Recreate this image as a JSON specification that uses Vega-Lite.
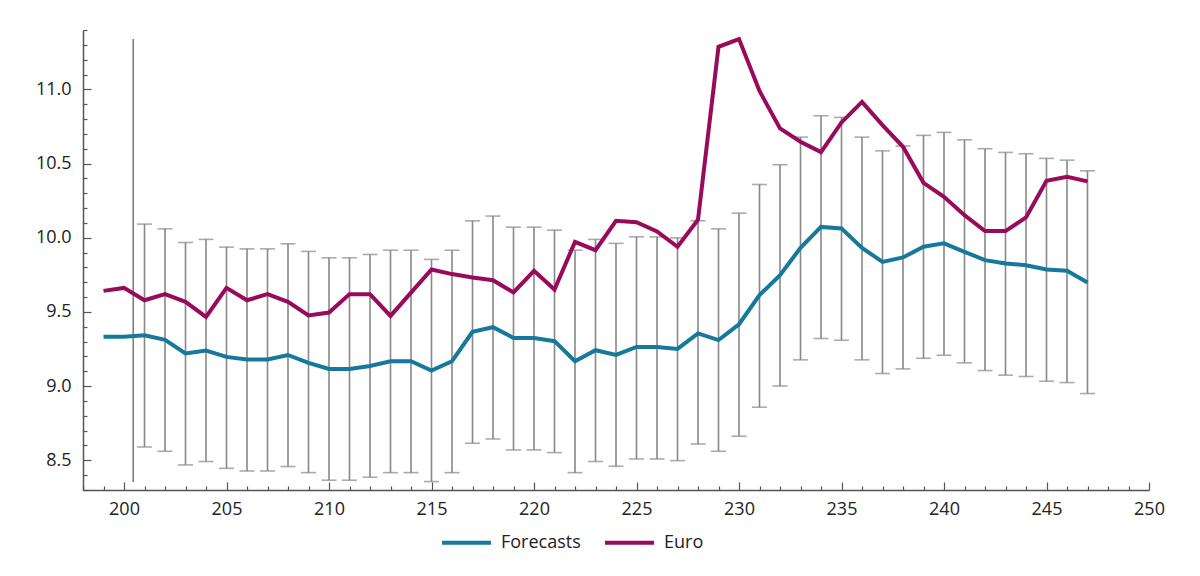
{
  "$schema": "https://vega.github.io/schema/vega-lite/v6.json",
  "autosize": "none",
  "width": 1066,
  "height": 460,
  "padding": {"left": 83, "top": 30, "right": 51, "bottom": 86},
  "background": "white",
  "config": {
    "view": {"stroke": null},
    "font": "Open Sans",
    "axis": {
      "grid": false,
      "domainColor": "#555555",
      "domainWidth": 1.5,
      "tickColor": "#555555",
      "tickWidth": 1.2,
      "labelColor": "#222222",
      "labelFont": "Open Sans",
      "labelFontSize": 18,
      "title": null
    }
  },
  "datasets": {
    "series": [
      {"x": 199, "Forecasts": 9.332, "Euro": 9.642},
      {"x": 200, "Forecasts": 9.332, "Euro": 9.662},
      {"x": 201, "Forecasts": 9.343, "Euro": 9.579},
      {"x": 202, "Forecasts": 9.312, "Euro": 9.62},
      {"x": 203, "Forecasts": 9.22, "Euro": 9.568},
      {"x": 204, "Forecasts": 9.24, "Euro": 9.467},
      {"x": 205, "Forecasts": 9.197, "Euro": 9.662},
      {"x": 206, "Forecasts": 9.179, "Euro": 9.579},
      {"x": 207, "Forecasts": 9.179, "Euro": 9.62},
      {"x": 208, "Forecasts": 9.21, "Euro": 9.568},
      {"x": 209, "Forecasts": 9.157, "Euro": 9.476},
      {"x": 210, "Forecasts": 9.116, "Euro": 9.496},
      {"x": 211, "Forecasts": 9.116, "Euro": 9.62},
      {"x": 212, "Forecasts": 9.136, "Euro": 9.62},
      {"x": 213, "Forecasts": 9.168, "Euro": 9.473},
      {"x": 214, "Forecasts": 9.168, "Euro": 9.63},
      {"x": 215, "Forecasts": 9.105, "Euro": 9.786},
      {"x": 216, "Forecasts": 9.168, "Euro": 9.755},
      {"x": 217, "Forecasts": 9.366, "Euro": 9.732},
      {"x": 218, "Forecasts": 9.397, "Euro": 9.714},
      {"x": 219, "Forecasts": 9.325, "Euro": 9.631},
      {"x": 220, "Forecasts": 9.325, "Euro": 9.777},
      {"x": 221, "Forecasts": 9.303, "Euro": 9.651},
      {"x": 222, "Forecasts": 9.168, "Euro": 9.972},
      {"x": 223, "Forecasts": 9.242, "Euro": 9.916},
      {"x": 224, "Forecasts": 9.21, "Euro": 10.114},
      {"x": 225, "Forecasts": 9.264, "Euro": 10.105},
      {"x": 226, "Forecasts": 9.264, "Euro": 10.042},
      {"x": 227, "Forecasts": 9.251, "Euro": 9.939},
      {"x": 228, "Forecasts": 9.355, "Euro": 10.121},
      {"x": 229, "Forecasts": 9.31, "Euro": 11.287},
      {"x": 230, "Forecasts": 9.417, "Euro": 11.339},
      {"x": 231, "Forecasts": 9.613, "Euro": 10.989},
      {"x": 232, "Forecasts": 9.748, "Euro": 10.737},
      {"x": 233, "Forecasts": 9.932, "Euro": 10.647},
      {"x": 234, "Forecasts": 10.073, "Euro": 10.577},
      {"x": 235, "Forecasts": 10.063, "Euro": 10.777},
      {"x": 236, "Forecasts": 9.932, "Euro": 10.916},
      {"x": 237, "Forecasts": 9.837, "Euro": 10.759},
      {"x": 238, "Forecasts": 9.867, "Euro": 10.613},
      {"x": 239, "Forecasts": 9.939, "Euro": 10.37},
      {"x": 240, "Forecasts": 9.962, "Euro": 10.276},
      {"x": 241, "Forecasts": 9.905, "Euro": 10.152},
      {"x": 242, "Forecasts": 9.849, "Euro": 10.045},
      {"x": 243, "Forecasts": 9.827, "Euro": 10.045},
      {"x": 244, "Forecasts": 9.815, "Euro": 10.137},
      {"x": 245, "Forecasts": 9.786, "Euro": 10.384},
      {"x": 246, "Forecasts": 9.777, "Euro": 10.411},
      {"x": 247, "Forecasts": 9.699, "Euro": 10.38}
    ],
    "bands": [
      {"x": 201, "lo": 8.59, "hi": 10.092},
      {"x": 202, "lo": 8.561, "hi": 10.06},
      {"x": 203, "lo": 8.469, "hi": 9.968},
      {"x": 204, "lo": 8.492, "hi": 9.989},
      {"x": 205, "lo": 8.446, "hi": 9.937},
      {"x": 206, "lo": 8.428, "hi": 9.925},
      {"x": 207, "lo": 8.428, "hi": 9.925},
      {"x": 208, "lo": 8.458, "hi": 9.959},
      {"x": 209, "lo": 8.417, "hi": 9.908},
      {"x": 210, "lo": 8.366, "hi": 9.865},
      {"x": 211, "lo": 8.366, "hi": 9.865},
      {"x": 212, "lo": 8.386, "hi": 9.887},
      {"x": 213, "lo": 8.417, "hi": 9.916},
      {"x": 214, "lo": 8.417, "hi": 9.916},
      {"x": 215, "lo": 8.357, "hi": 9.854},
      {"x": 216, "lo": 8.417, "hi": 9.916},
      {"x": 217, "lo": 8.615, "hi": 10.114},
      {"x": 218, "lo": 8.644, "hi": 10.146},
      {"x": 219, "lo": 8.57, "hi": 10.071},
      {"x": 220, "lo": 8.57, "hi": 10.071},
      {"x": 221, "lo": 8.552, "hi": 10.051},
      {"x": 222, "lo": 8.417, "hi": 9.916},
      {"x": 223, "lo": 8.492, "hi": 9.989},
      {"x": 224, "lo": 8.46, "hi": 9.962},
      {"x": 225, "lo": 8.509, "hi": 10.006},
      {"x": 226, "lo": 8.509, "hi": 10.006},
      {"x": 227, "lo": 8.498, "hi": 9.999},
      {"x": 228, "lo": 8.61, "hi": 10.114},
      {"x": 229, "lo": 8.561, "hi": 10.06},
      {"x": 230, "lo": 8.662, "hi": 10.166},
      {"x": 231, "lo": 8.858, "hi": 10.359},
      {"x": 232, "lo": 9.001, "hi": 10.492},
      {"x": 233, "lo": 9.177, "hi": 10.678},
      {"x": 234, "lo": 9.321, "hi": 10.822},
      {"x": 235, "lo": 9.309, "hi": 10.811},
      {"x": 236, "lo": 9.177, "hi": 10.678},
      {"x": 237, "lo": 9.085, "hi": 10.586},
      {"x": 238, "lo": 9.116, "hi": 10.618},
      {"x": 239, "lo": 9.188, "hi": 10.69},
      {"x": 240, "lo": 9.208, "hi": 10.71},
      {"x": 241, "lo": 9.157, "hi": 10.66},
      {"x": 242, "lo": 9.105, "hi": 10.6},
      {"x": 243, "lo": 9.074, "hi": 10.575},
      {"x": 244, "lo": 9.065, "hi": 10.566},
      {"x": 245, "lo": 9.033, "hi": 10.535},
      {"x": 246, "lo": 9.024, "hi": 10.523},
      {"x": 247, "lo": 8.95, "hi": 10.451}
    ],
    "marker": [
      {"x": 200.45, "lo": 8.354, "hi": 11.34}
    ]
  },
  "layer": [
    {
      "data": {"name": "marker"},
      "mark": {"type": "rule", "color": "#777777", "strokeWidth": 1.5},
      "encoding": {
        "x": {"field": "x", "type": "quantitative", "scale": {"domain": [198, 250], "nice": false, "zero": false},
          "axis": {
            "values": [198,199,200,201,202,203,204,205,206,207,208,209,210,211,212,213,214,215,216,217,218,219,220,221,222,223,224,225,226,227,228,229,230,231,232,233,234,235,236,237,238,239,240,241,242,243,244,245,246,247,248,249,250],
            "tickCount": 500,
            "format": "d",
            "labelExpr": "datum.value % 5 === 0 ? format(datum.value, 'd') : ''",
            "tickSize": {"condition": {"test": "datum.value % 5 === 0", "value": -8}, "value": -4},
            "labelPadding": 18,
            "labelFlush": false,
            "labelOverlap": false
          }},
        "y": {"field": "lo", "type": "quantitative", "scale": {"domain": [8.3, 11.4], "nice": false, "zero": false},
          "axis": {
            "values": [8.3,8.4,8.5,8.6,8.7,8.8,8.9,9.0,9.1,9.2,9.3,9.4,9.5,9.6,9.7,9.8,9.9,10.0,10.1,10.2,10.3,10.4,10.5,10.6,10.7,10.8,10.9,11.0,11.1,11.2,11.3,11.4],
            "tickCount": 500,
            "labelExpr": "round(datum.value * 10) % 5 === 0 ? format(datum.value, '.1f') : ''",
            "tickSize": {"condition": {"test": "round(datum.value * 10) % 5 === 0", "value": -8}, "value": -4},
            "labelPadding": 20,
            "labelFlush": false,
            "labelOverlap": false
          }},
        "y2": {"field": "hi"}
      }
    },
    {
      "data": {"name": "bands"},
      "mark": {"type": "rule", "color": "#888888", "strokeWidth": 1.6},
      "encoding": {
        "x": {"field": "x", "type": "quantitative"},
        "y": {"field": "lo", "type": "quantitative"},
        "y2": {"field": "hi"}
      }
    },
    {
      "data": {"name": "bands"},
      "mark": {"type": "tick", "orient": "horizontal", "color": "#888888", "size": 15, "thickness": 1.6},
      "encoding": {
        "x": {"field": "x", "type": "quantitative"},
        "y": {"field": "lo", "type": "quantitative"}
      }
    },
    {
      "data": {"name": "bands"},
      "mark": {"type": "tick", "orient": "horizontal", "color": "#888888", "size": 15, "thickness": 1.6},
      "encoding": {
        "x": {"field": "x", "type": "quantitative"},
        "y": {"field": "hi", "type": "quantitative"}
      }
    },
    {
      "data": {"name": "series"},
      "transform": [{"fold": ["Forecasts", "Euro"], "as": ["series", "value"]}],
      "mark": {"type": "line", "strokeWidth": 4, "strokeJoin": "miter"},
      "encoding": {
        "x": {"field": "x", "type": "quantitative"},
        "y": {"field": "value", "type": "quantitative"},
        "color": {
          "field": "series", "type": "nominal",
          "scale": {"domain": ["Forecasts", "Euro"], "range": ["#16789a", "#990b5a"]},
          "legend": {
            "title": null,
            "orient": "none",
            "direction": "horizontal",
            "legendX": 357,
            "legendY": 486,
            "padding": 0,
            "symbolType": "stroke",
            "symbolSize": 2401,
            "symbolStrokeWidth": 4,
            "labelFont": "Open Sans",
            "labelFontSize": 18,
            "labelColor": "#222222",
            "labelOffset": 8,
            "columnPadding": 16
          }
        }
      }
    }
  ]
}
